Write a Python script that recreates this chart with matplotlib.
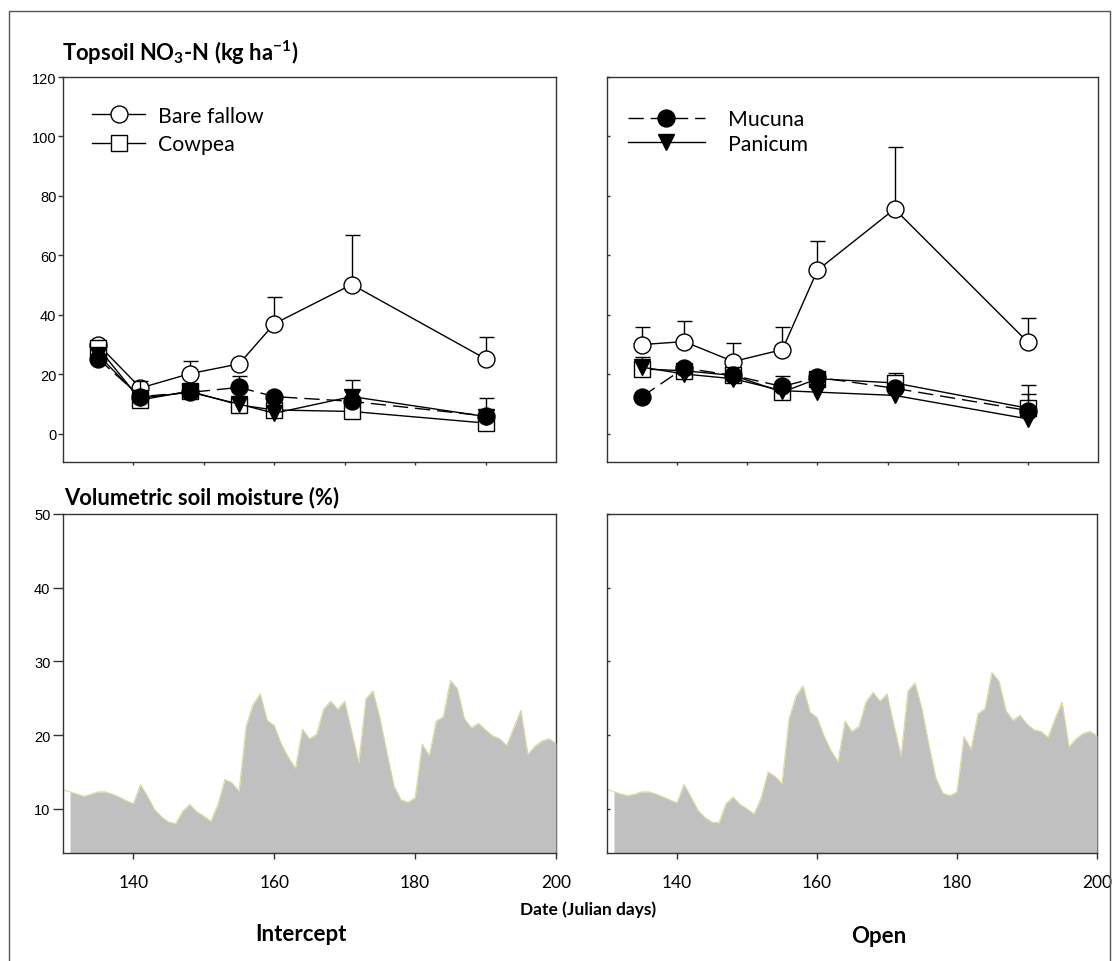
import numpy as np
import matplotlib
matplotlib.use("Agg")
import matplotlib.pyplot as plt
from matplotlib.patches import Rectangle

nan = np.nan

# ---------------- data ----------------
sample_days = [135, 141, 148, 155, 160, 171, 190]

# Intercept (left) topsoil NO3-N
int_bare = [30.0, 15.4, 20.2, 23.5, 37.0, 50.2, 25.2]
int_bare_err = [nan, nan, 4.2, nan, 9.0, 16.7, 7.2]
int_cowpea = [28.9, 11.4, 14.3, 9.7, 8.0, 7.5, 3.6]
int_cowpea_err = [nan, nan, nan, nan, nan, nan, nan]
int_mucuna = [25.2, 12.5, 13.9, 15.6, 12.5, 10.9, 6.0]
int_mucuna_err = [nan, 5.1, 2.9, 3.9, nan, nan, 5.9]
int_panicum = [26.5, 12.0, 14.0, 10.0, 6.9, 12.5, 5.8]
int_panicum_err = [nan, nan, nan, nan, nan, 5.7, nan]

# Open (right) topsoil NO3-N
open_bare = [30.0, 31.0, 24.3, 28.3, 55.0, 75.6, 30.8]
open_bare_err = [5.8, 6.8, 6.2, 7.5, 9.9, 20.8, 8.0]
open_cowpea = [21.8, 21.2, 19.6, 14.0, 18.5, 17.1, 8.6]
open_cowpea_err = [4.1, nan, nan, nan, nan, 3.4, 7.8]
open_mucuna = [12.5, 22.1, 19.6, 15.9, 19.0, 15.3, 7.8]
open_mucuna_err = [nan, nan, nan, 3.5, nan, nan, 5.6]
open_panicum = [22.4, 20.1, 18.5, 14.5, 14.0, 12.9, 5.0]
open_panicum_err = [nan, nan, nan, nan, nan, nan, nan]

# Volumetric soil moisture, daily, Julian days 130..200
moist_days = list(range(130, 201))
int_moisture = [12.55, 12.3, 12.0, 11.7, 12.0, 12.3, 12.3, 12.0, 11.6, 11.1,
                10.7, 13.3, 11.7, 9.9, 8.9, 8.2, 8.0, 9.7, 10.6, 9.6,
                9.0, 8.3, 10.6, 14.0, 13.5, 12.4, 21.2, 24.2, 25.6, 22.0,
                21.3, 18.8, 17.0, 15.5, 20.8, 19.5, 20.1, 23.5, 24.6, 23.5,
                24.6, 20.4, 16.3, 24.9, 26.0, 22.3, 17.6, 13.1, 11.2, 10.9,
                11.5, 18.8, 17.2, 21.9, 22.5, 27.4, 26.3, 22.2, 21.0, 21.6,
                20.7, 19.9, 19.5, 18.6, 21.0, 23.4, 17.4, 18.5, 19.2, 19.5,
                18.9]
open_moisture = [12.6, 12.3, 12.0, 11.8, 12.0, 12.3, 12.3, 12.0, 11.6, 11.2,
                 10.8, 13.3, 11.6, 9.8, 8.8, 8.2, 8.1, 10.7, 11.6, 10.6,
                 10.0, 9.3, 11.4, 15.0, 14.4, 13.4, 22.2, 25.3, 26.7, 23.1,
                 22.4, 19.9, 17.9, 16.4, 21.9, 20.5, 21.2, 24.5, 25.8, 24.6,
                 25.6, 21.3, 17.2, 26.0, 27.1, 23.5, 18.6, 14.1, 12.1, 11.8,
                 12.3, 19.8, 18.1, 22.9, 23.6, 28.5, 27.3, 23.3, 22.0, 22.7,
                 21.5, 20.7, 20.5, 19.7, 22.2, 24.5, 18.4, 19.5, 20.2, 20.5,
                 19.9]

top_yticks = [0, 20, 40, 60, 80, 100, 120]
bot_yticks = [10, 20, 30, 40, 50]
top_xticks = [140, 150, 160, 170, 180, 190]
bot_xticks = [140, 160, 180, 200]

series_labels = ["Bare fallow", "Cowpea", "Mucuna", "Panicum"]

# ---------------- style ----------------
plt.rcParams["font.family"] = ["Lato", "DejaVu Sans"]
plt.rcParams["mathtext.fontset"] = "custom"
plt.rcParams["mathtext.rm"] = "Lato:bold"
plt.rcParams["mathtext.bf"] = "Lato:bold"
plt.rcParams["mathtext.it"] = "Lato:bold"

W, H = 1118, 962
fig = plt.figure(figsize=(W / 100, H / 100), dpi=100)

def ax_at(l, t, r, b):
    return fig.add_axes([l / W, 1 - b / H, (r - l) / W, (b - t) / H])

ax_tl = ax_at(63, 78, 556, 463)
ax_tr = ax_at(607, 78, 1098, 463)
ax_bl = ax_at(63, 515, 556, 854)
ax_br = ax_at(607, 515, 1097, 854)

spine_col = "#333333"
for ax in (ax_tl, ax_tr, ax_bl, ax_br):
    for s in ax.spines.values():
        s.set_color(spine_col)
        s.set_linewidth(1.0)
    ax.set_xlim(130, 200)

styles = {
    "Bare fallow": dict(marker="o", mfc="white", mec="black", ms=12.2, ls="-"),
    "Cowpea": dict(marker="s", mfc="white", mec="black", ms=11.0, ls="-"),
    "Mucuna": dict(marker="o", mfc="black", mec="black", ms=12.2, ls=(0, (11, 5))),
    "Panicum": dict(marker="v", mfc="black", mec="black", ms=12.0, ls="-"),
}


def draw_top(ax, data):
    handles = {}
    for z, (lab, vals, err) in enumerate(data):
        st = styles[lab]
        up = np.array(err, dtype=float)
        mask = ~np.isnan(up)
        x = np.array(sample_days)[mask]
        y = np.array(vals)[mask]
        if mask.any():
            ax.errorbar(x, y, yerr=[np.zeros(mask.sum()), up[mask]], fmt="none",
                        ecolor="black", elinewidth=1.0, capsize=5.4,
                        capthick=1.0, zorder=2 + z * 0.2)
        h, = ax.plot(sample_days, vals, color="black", lw=1.0,
                     linestyle=st["ls"], marker=st["marker"],
                     markerfacecolor=st["mfc"], markeredgecolor=st["mec"],
                     markersize=st["ms"], markeredgewidth=1.0,
                     zorder=2.1 + z * 0.2, label=lab)
        handles[lab] = h
    ax.set_ylim(-9.5, 120)
    ax.set_yticks(top_yticks)
    ax.set_xticks(top_xticks)
    ax.tick_params(axis="x", direction="out", length=2.5, width=1.0,
                   color=spine_col, labelbottom=False)
    return handles


h_l = draw_top(ax_tl, [("Bare fallow", int_bare, int_bare_err),
                       ("Cowpea", int_cowpea, int_cowpea_err),
                       ("Panicum", int_panicum, int_panicum_err),
                       ("Mucuna", int_mucuna, int_mucuna_err)])
h_r = draw_top(ax_tr, [("Bare fallow", open_bare, open_bare_err),
                       ("Cowpea", open_cowpea, open_cowpea_err),
                       ("Panicum", open_panicum, open_panicum_err),
                       ("Mucuna", open_mucuna, open_mucuna_err)])

ax_tl.tick_params(axis="y", direction="out", length=3.3, width=1.0,
                  color=spine_col, pad=1.5)
ax_tr.tick_params(axis="y", direction="in", length=2.0, width=1.0,
                  color=spine_col, labelleft=False)
for lab in ax_tl.get_yticklabels():
    lab.set_fontfamily("Liberation Sans")
    lab.set_fontsize(10.5)

leg1 = ax_tl.legend([h_l["Bare fallow"], h_l["Cowpea"]],
                    ["Bare fallow", "Cowpea"], loc="upper left",
                    bbox_to_anchor=(0.0588, 0.925), frameon=False,
                    borderaxespad=0, borderpad=0, fontsize=15.3,
                    handlelength=2.5, handletextpad=0.62, labelspacing=0.38)
leg2 = ax_tr.legend([h_r["Mucuna"], h_r["Panicum"]],
                    ["Mucuna", "Panicum"], loc="upper left",
                    bbox_to_anchor=(0.0428, 0.917), frameon=False,
                    borderaxespad=0, borderpad=0, fontsize=15.3,
                    handlelength=3.6, handletextpad=1.1, labelspacing=0.22)


def draw_bottom(ax, vals):
    ax.fill_between(moist_days[1:], vals[1:], 0, color="#c0c0c0", lw=0,
                    zorder=3)
    ax.plot(moist_days, vals, color="#dcdc98", lw=0.8, zorder=3.1)
    ax.set_ylim(4, 50)
    ax.set_yticks(bot_yticks)
    ax.set_xticks(bot_xticks)
    ax.spines["bottom"].set_zorder(4)
    ax.spines["left"].set_zorder(4)
    ax.tick_params(axis="x", direction="out", length=4.3, width=1.0,
                   color=spine_col, pad=11, labelsize=12.5)


draw_bottom(ax_bl, int_moisture)
draw_bottom(ax_br, open_moisture)
ax_bl.tick_params(axis="y", direction="out", length=7.0, width=1.0,
                  color=spine_col, pad=2)
for lab in ax_bl.get_yticklabels():
    lab.set_fontfamily("Liberation Sans")
    lab.set_fontsize(10.5)
ax_br.tick_params(axis="y", direction="in", length=2.0, width=1.0,
                  color=spine_col, labelleft=False)

# ---------------- texts ----------------
fig.text(62 / W, 1 - 61 / H,
         r"Topsoil NO$_{\mathrm{3}}$-N (kg ha$^{\mathrm{-1}}$)",
         fontsize=15.8, fontweight="bold", ha="left", va="baseline")
fig.text(64 / W, 1 - 504 / H, "Volumetric soil moisture (%)",
         fontsize=15.8, fontweight="bold", ha="left", va="baseline")
fig.text(588 / W, 1 - 910 / H, "Date (Julian days)", fontsize=12.5,
         fontweight="bold", ha="center", va="center")
fig.text(301 / W, 1 - 935 / H, "Intercept", fontsize=16,
         fontweight="bold", ha="center", va="center")
fig.text(879 / W, 1 - 937 / H, "Open", fontsize=16,
         fontweight="bold", ha="center", va="center")

# outer frame
fig.add_artist(Rectangle((9 / W, -0.05), (1110 - 9) / W, 1 - 12 / H + 0.05,
                         transform=fig.transFigure, fill=False, lw=1.0,
                         ec="#555555", zorder=10))

fig.savefig("out.png", dpi=100)
